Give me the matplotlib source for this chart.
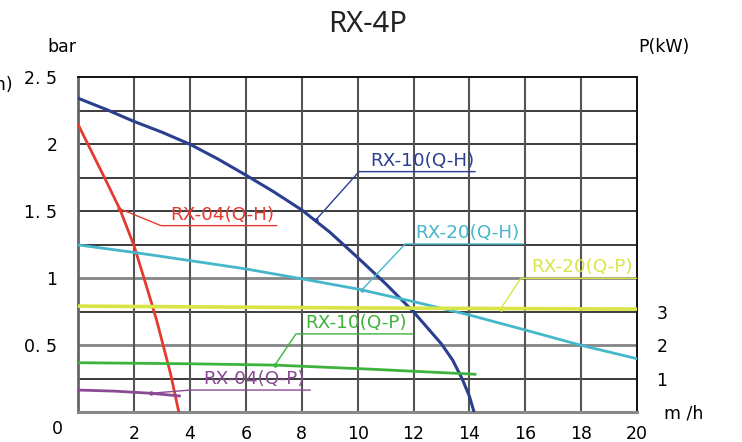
import matplotlib
matplotlib.use("Agg")
import matplotlib.pyplot as plt
import numpy as np

# ---------------- data ----------------
title = "RX-4P"
x_ticks = [2, 4, 6, 8, 10, 12, 14, 16, 18, 20]
y_ticks = [0.5, 1.0, 1.5, 2.0, 2.5]
y_tick_labels = ["0. 5", "1", "1. 5", "2", "2. 5"]
p_ticks = [1, 2, 3]

# Q-H curves (Q in m3/h, H in bar)
rx04_qh_q = [0, 0.5, 1.0, 1.5, 2.0, 2.5, 2.8, 3.0, 3.3, 3.6]
rx04_qh_h = [2.145, 1.935, 1.725, 1.51, 1.24, 0.90, 0.69, 0.53, 0.29, 0.0]

rx10_qh_q = [0, 1, 2, 3, 4, 5, 6, 7, 8, 9, 10, 11, 12, 12.5, 13, 13.4, 13.74, 14.0, 14.17]
rx10_qh_h = [2.343, 2.26, 2.17, 2.09, 2.0, 1.89, 1.77, 1.645, 1.51, 1.345, 1.155,
             0.96, 0.75, 0.63, 0.51, 0.39, 0.25, 0.12, 0.0]

rx20_qh_q = [0, 2, 4, 6, 8, 10, 12, 14, 16, 18, 20]
rx20_qh_h = [1.249, 1.193, 1.132, 1.07, 0.996, 0.92, 0.826, 0.726, 0.614, 0.50, 0.40]

# Q-P curves (P in kW)
rx20_qp_q = [0, 10, 20]
rx20_qp_p = [3.17, 3.115, 3.08]

rx10_qp_q = [0, 4, 7, 10.4, 14.2]
rx10_qp_p = [1.48, 1.448, 1.41, 1.29, 1.136]

rx04_qp_q = [0, 1.3, 2.6, 3.62]
rx04_qp_p = [0.664, 0.632, 0.568, 0.488]

# ---------------- style ----------------
c_blue = "#2A3F8F"
c_red = "#E53A2F"
c_cyan = "#45B7CA"
c_yellow = "#D9E545"
c_green = "#3DB33D"
c_purple = "#8B4A94"

W, H = 742, 442
fig = plt.figure(figsize=(W / 100, H / 100), dpi=100)
L, R, B, T = 78.3, 637, 412.3, 77.3
ax = fig.add_axes([L / W, 1 - B / H, (R - L) / W, (B - T) / H])
ax.set_xlim(0, 20)
ax.set_ylim(0, 2.5)

FS = 12.5
LFS = 13.2
FONT = "DejaVu Sans"

# grid lines
for yv in np.arange(0.25, 2.5, 0.25):
    if abs(yv - 1.0) < 1e-6 or abs(yv - 0.5) < 1e-6:
        ax.axhline(yv, color="#858585", lw=2.0, zorder=1)
    else:
        ax.axhline(yv, color="#1a1a1a", lw=1.2, zorder=1)
for xv in x_ticks[:-1]:
    ax.axvline(xv, color="#555555", lw=1.5, zorder=1)

for s in ["top", "right"]:
    ax.spines[s].set_color("#111111")
    ax.spines[s].set_linewidth(1.4)
ax.spines["left"].set_color("#666666")
ax.spines["left"].set_linewidth(2.0)
ax.spines["bottom"].set_color("#888888")
ax.spines["bottom"].set_linewidth(2.2)

ax.set_xticks(x_ticks)
ax.set_xticklabels([str(v) for v in x_ticks], fontsize=FS, family=FONT)
ax.set_yticks(y_ticks)
ax.set_yticklabels(y_tick_labels, fontsize=FS, family=FONT)
ax.tick_params(axis="x", length=0, pad=9)
ax.tick_params(axis="y", length=0, pad=15)

# twin axis for power
ax2 = ax.twinx()
ax2.set_ylim(0, 10)
ax2.set_yticks(p_ticks)
ax2.set_yticklabels([str(v) for v in p_ticks], fontsize=FS, family=FONT)
ax2.tick_params(axis="y", length=0, pad=14)
for s in ax2.spines.values():
    s.set_visible(False)

# curves
ax.plot(rx04_qh_q, rx04_qh_h, color=c_red, lw=2.0, zorder=3)
ax.plot(rx10_qh_q, rx10_qh_h, color=c_blue, lw=2.2, zorder=3)
ax.plot(rx20_qh_q, rx20_qh_h, color=c_cyan, lw=2.0, zorder=3)
ax2.plot(rx20_qp_q, rx20_qp_p, color=c_yellow, lw=2.6, zorder=3)
ax2.plot(rx10_qp_q, rx10_qp_p, color=c_green, lw=2.0, zorder=3)
ax2.plot(rx04_qp_q, rx04_qp_p, color=c_purple, lw=2.0, zorder=3)


def label(a, text, color, pt, knee, end, tx):
    a.plot([pt[0], knee[0], end], [pt[1], knee[1], knee[1]], color=color, lw=1.0, zorder=4)
    a.plot([pt[0]], [pt[1]], marker="o", ms=2.2, color=color, zorder=4)
    a.annotate(text, xy=(tx, knee[1]), xytext=(0, 1.5), textcoords="offset points",
               color=color, fontsize=LFS, family=FONT, ha="left", va="bottom", zorder=5)


label(ax, "RX-10(Q-H)", c_blue, (8.5, 1.435), (10.05, 1.796), 14.2, 10.45)
label(ax, "RX-04(Q-H)", c_red, (1.47, 1.52), (2.96, 1.393), 7.1, 3.29)
label(ax, "RX-20(Q-H)", c_cyan, (10.16, 0.915), (11.7, 1.256), 15.9, 12.07)
label(ax2, "RX-20(Q-P)", c_yellow, (15.12, 3.09), (15.84, 4.0), 20.0, 16.23)
label(ax2, "RX-10(Q-P)", c_green, (7.04, 1.41), (7.79, 2.34), 11.98, 8.11)
label(ax2, "RX-04(Q-P)", c_purple, (2.6, 0.568), (4.0, 0.664), 8.3, 4.47)

# texts around
fig.text(367.5 / W, 1 - 25 / H, title, fontsize=21, family="Noto Sans",
         ha="center", va="center", color="#222222")
fig.text(62 / W, 1 - 47 / H, "bar", fontsize=FS, family=FONT, ha="center", va="center")
fig.text(664 / W, 1 - 47 / H, "P(kW)", fontsize=FS, family=FONT, ha="center", va="center")
fig.text(684 / W, 1 - 413 / H, "m /h", fontsize=FS, family=FONT, ha="center", va="center")
fig.text(57 / W, 1 - 429 / H, "0", fontsize=FS, family=FONT, ha="center", va="center")
fig.text(13 / W, 1 - 85 / H, "H(m)", fontsize=FS, family=FONT, ha="right", va="center")

fig.savefig("out.png", dpi=100, facecolor="white")
